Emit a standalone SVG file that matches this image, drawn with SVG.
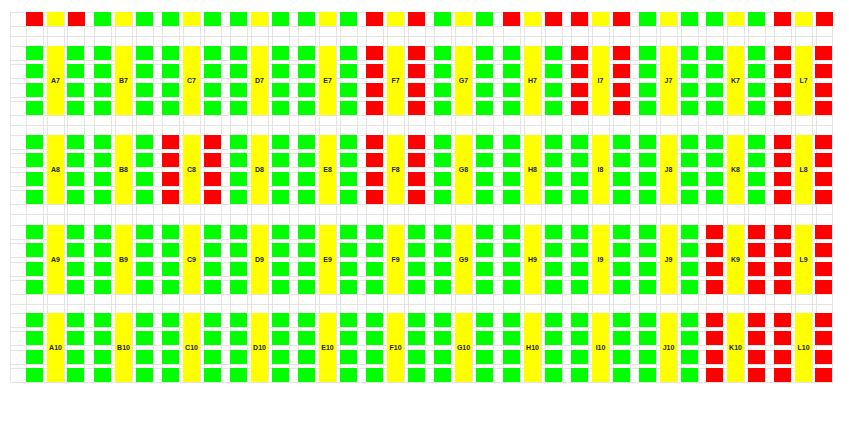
<svg xmlns="http://www.w3.org/2000/svg" xmlns:xlink="http://www.w3.org/1999/xlink" width="849" height="425" viewBox="0 0 849 425">
<style>
.r{fill:#ff0000}.g{fill:#00ff00}.y{fill:#ffff00}
.grid{stroke:#e4e4e4;stroke-width:1;fill:none}
.lbl{font-family:"Liberation Sans",Arial,sans-serif;font-size:7px;font-weight:bold;fill:#222;text-anchor:middle}
</style>
<defs>
<g id="col4"><rect width="17" height="14"/><rect y="18" width="17" height="14"/><rect y="37" width="17" height="14"/><rect y="55" width="17" height="14"/></g>
<g id="top"><rect width="17" height="14"/><rect x="42" width="17" height="14"/></g>
</defs>
<rect width="849" height="425" fill="#fff"/>
<g id="grid" class="grid">
<path d="M10.5 12.5H832M10.5 26.5H832M10.5 36.5H832M10.5 46.5H832M10.5 60.5H832M10.5 64.5H832M10.5 78.5H832M10.5 83.5H832M10.5 97.5H832M10.5 101.5H832M10.5 115.5H832M10.5 125.5H832M10.5 135.5H832M10.5 149.5H832M10.5 153.5H832M10.5 167.5H832M10.5 172.5H832M10.5 186.5H832M10.5 190.5H832M10.5 204.5H832M10.5 214.5H832M10.5 225.5H832M10.5 239.5H832M10.5 243.5H832M10.5 257.5H832M10.5 262.5H832M10.5 276.5H832M10.5 280.5H832M10.5 294.5H832M10.5 304.5H832M10.5 313.5H832M10.5 327.5H832M10.5 331.5H832M10.5 345.5H832M10.5 350.5H832M10.5 364.5H832M10.5 368.5H832M10.5 382.5H832"/>
<path d="M10.5 12V383M26.5 12V383M43.5 12V383M47.5 12V383M64.5 12V383M67.5 12V383M84.5 12V383M94.5 12V383M111.5 12V383M115.5 12V383M132.5 12V383M136.5 12V383M153.5 12V383M162.5 12V383M179.5 12V383M183.5 12V383M200.5 12V383M204.5 12V383M221.5 12V383M230.5 12V383M247.5 12V383M251.5 12V383M268.5 12V383M272.5 12V383M289.5 12V383M298.5 12V383M315.5 12V383M319.5 12V383M336.5 12V383M340.5 12V383M357.5 12V383M366.5 12V383M383.5 12V383M387.5 12V383M404.5 12V383M408.5 12V383M425.5 12V383M434.5 12V383M451.5 12V383M455.5 12V383M472.5 12V383M476.5 12V383M493.5 12V383M503.5 12V383M520.5 12V383M524.5 12V383M541.5 12V383M545.5 12V383M562.5 12V383M571.5 12V383M588.5 12V383M592.5 12V383M609.5 12V383M613.5 12V383M630.5 12V383M639.5 12V383M656.5 12V383M660.5 12V383M677.5 12V383M681.5 12V383M698.5 12V383M706.5 12V383M723.5 12V383M727.5 12V383M744.5 12V383M748.5 12V383M765.5 12V383M774.5 12V383M791.5 12V383M795.5 12V383M812.5 12V383M816.5 12V383M832.5 12V383"/>
</g>
<g id="top-row">
<g transform="translate(26,12)"><use href="#top" class="r"/><rect class="y" x="21" width="17" height="14"/></g>
<g transform="translate(94,12)"><use href="#top" class="g"/><rect class="y" x="21" width="17" height="14"/></g>
<g transform="translate(162,12)"><use href="#top" class="g"/><rect class="y" x="21" width="17" height="14"/></g>
<g transform="translate(230,12)"><use href="#top" class="g"/><rect class="y" x="21" width="17" height="14"/></g>
<g transform="translate(298,12)"><use href="#top" class="g"/><rect class="y" x="21" width="17" height="14"/></g>
<g transform="translate(366,12)"><use href="#top" class="r"/><rect class="y" x="21" width="17" height="14"/></g>
<g transform="translate(434,12)"><use href="#top" class="g"/><rect class="y" x="21" width="17" height="14"/></g>
<g transform="translate(503,12)"><use href="#top" class="r"/><rect class="y" x="21" width="17" height="14"/></g>
<g transform="translate(571,12)"><use href="#top" class="r"/><rect class="y" x="21" width="17" height="14"/></g>
<g transform="translate(639,12)"><use href="#top" class="g"/><rect class="y" x="21" width="17" height="14"/></g>
<g transform="translate(706,12)"><use href="#top" class="g"/><rect class="y" x="21" width="17" height="14"/></g>
<g transform="translate(774,12)"><use href="#top" class="r"/><rect class="y" x="21" width="17" height="14"/></g>
</g>
<!-- row 7 -->
<g id="A7" transform="translate(26,46)"><use href="#col4" class="g"/><use href="#col4" x="41" class="g"/><rect class="y" x="21" width="17" height="69"/><text class="lbl" x="29.5" y="37">A7</text></g>
<g id="B7" transform="translate(94,46)"><use href="#col4" class="g"/><use href="#col4" x="42" class="g"/><rect class="y" x="21" width="17" height="69"/><text class="lbl" x="29.5" y="37">B7</text></g>
<g id="C7" transform="translate(162,46)"><use href="#col4" class="g"/><use href="#col4" x="42" class="g"/><rect class="y" x="21" width="17" height="69"/><text class="lbl" x="29.5" y="37">C7</text></g>
<g id="D7" transform="translate(230,46)"><use href="#col4" class="g"/><use href="#col4" x="42" class="g"/><rect class="y" x="21" width="17" height="69"/><text class="lbl" x="29.5" y="37">D7</text></g>
<g id="E7" transform="translate(298,46)"><use href="#col4" class="g"/><use href="#col4" x="42" class="g"/><rect class="y" x="21" width="17" height="69"/><text class="lbl" x="29.5" y="37">E7</text></g>
<g id="F7" transform="translate(366,46)"><use href="#col4" class="r"/><use href="#col4" x="42" class="r"/><rect class="y" x="21" width="17" height="69"/><text class="lbl" x="29.5" y="37">F7</text></g>
<g id="G7" transform="translate(434,46)"><use href="#col4" class="g"/><use href="#col4" x="42" class="g"/><rect class="y" x="21" width="17" height="69"/><text class="lbl" x="29.5" y="37">G7</text></g>
<g id="H7" transform="translate(503,46)"><use href="#col4" class="g"/><use href="#col4" x="42" class="g"/><rect class="y" x="21" width="17" height="69"/><text class="lbl" x="29.5" y="37">H7</text></g>
<g id="I7" transform="translate(571,46)"><use href="#col4" class="r"/><use href="#col4" x="42" class="r"/><rect class="y" x="21" width="17" height="69"/><text class="lbl" x="29.5" y="37">I7</text></g>
<g id="J7" transform="translate(639,46)"><use href="#col4" class="g"/><use href="#col4" x="42" class="g"/><rect class="y" x="21" width="17" height="69"/><text class="lbl" x="29.5" y="37">J7</text></g>
<g id="K7" transform="translate(706,46)"><use href="#col4" class="g"/><use href="#col4" x="42" class="g"/><rect class="y" x="21" width="17" height="69"/><text class="lbl" x="29.5" y="37">K7</text></g>
<g id="L7" transform="translate(774,46)"><use href="#col4" class="r"/><use href="#col4" x="41" class="r"/><rect class="y" x="21" width="17" height="69"/><text class="lbl" x="29.5" y="37">L7</text></g>
<!-- row 8 -->
<g id="A8" transform="translate(26,135)"><use href="#col4" class="g"/><use href="#col4" x="41" class="g"/><rect class="y" x="21" width="17" height="69"/><text class="lbl" x="29.5" y="37">A8</text></g>
<g id="B8" transform="translate(94,135)"><use href="#col4" class="g"/><use href="#col4" x="42" class="g"/><rect class="y" x="21" width="17" height="69"/><text class="lbl" x="29.5" y="37">B8</text></g>
<g id="C8" transform="translate(162,135)"><use href="#col4" class="r"/><use href="#col4" x="42" class="r"/><rect class="y" x="21" width="17" height="69"/><text class="lbl" x="29.5" y="37">C8</text></g>
<g id="D8" transform="translate(230,135)"><use href="#col4" class="g"/><use href="#col4" x="42" class="g"/><rect class="y" x="21" width="17" height="69"/><text class="lbl" x="29.5" y="37">D8</text></g>
<g id="E8" transform="translate(298,135)"><use href="#col4" class="g"/><use href="#col4" x="42" class="g"/><rect class="y" x="21" width="17" height="69"/><text class="lbl" x="29.5" y="37">E8</text></g>
<g id="F8" transform="translate(366,135)"><use href="#col4" class="r"/><use href="#col4" x="42" class="r"/><rect class="y" x="21" width="17" height="69"/><text class="lbl" x="29.5" y="37">F8</text></g>
<g id="G8" transform="translate(434,135)"><use href="#col4" class="g"/><use href="#col4" x="42" class="g"/><rect class="y" x="21" width="17" height="69"/><text class="lbl" x="29.5" y="37">G8</text></g>
<g id="H8" transform="translate(503,135)"><use href="#col4" class="g"/><use href="#col4" x="42" class="g"/><rect class="y" x="21" width="17" height="69"/><text class="lbl" x="29.5" y="37">H8</text></g>
<g id="I8" transform="translate(571,135)"><use href="#col4" class="g"/><use href="#col4" x="42" class="g"/><rect class="y" x="21" width="17" height="69"/><text class="lbl" x="29.5" y="37">I8</text></g>
<g id="J8" transform="translate(639,135)"><use href="#col4" class="g"/><use href="#col4" x="42" class="g"/><rect class="y" x="21" width="17" height="69"/><text class="lbl" x="29.5" y="37">J8</text></g>
<g id="K8" transform="translate(706,135)"><use href="#col4" class="g"/><use href="#col4" x="42" class="g"/><rect class="y" x="21" width="17" height="69"/><text class="lbl" x="29.5" y="37">K8</text></g>
<g id="L8" transform="translate(774,135)"><use href="#col4" class="r"/><use href="#col4" x="41" class="r"/><rect class="y" x="21" width="17" height="69"/><text class="lbl" x="29.5" y="37">L8</text></g>
<!-- row 9 -->
<g id="A9" transform="translate(26,225)"><use href="#col4" class="g"/><use href="#col4" x="41" class="g"/><rect class="y" x="21" width="17" height="69"/><text class="lbl" x="29.5" y="37">A9</text></g>
<g id="B9" transform="translate(94,225)"><use href="#col4" class="g"/><use href="#col4" x="42" class="g"/><rect class="y" x="21" width="17" height="69"/><text class="lbl" x="29.5" y="37">B9</text></g>
<g id="C9" transform="translate(162,225)"><use href="#col4" class="g"/><use href="#col4" x="42" class="g"/><rect class="y" x="21" width="17" height="69"/><text class="lbl" x="29.5" y="37">C9</text></g>
<g id="D9" transform="translate(230,225)"><use href="#col4" class="g"/><use href="#col4" x="42" class="g"/><rect class="y" x="21" width="17" height="69"/><text class="lbl" x="29.5" y="37">D9</text></g>
<g id="E9" transform="translate(298,225)"><use href="#col4" class="g"/><use href="#col4" x="42" class="g"/><rect class="y" x="21" width="17" height="69"/><text class="lbl" x="29.5" y="37">E9</text></g>
<g id="F9" transform="translate(366,225)"><use href="#col4" class="g"/><use href="#col4" x="42" class="g"/><rect class="y" x="21" width="17" height="69"/><text class="lbl" x="29.5" y="37">F9</text></g>
<g id="G9" transform="translate(434,225)"><use href="#col4" class="g"/><use href="#col4" x="42" class="g"/><rect class="y" x="21" width="17" height="69"/><text class="lbl" x="29.5" y="37">G9</text></g>
<g id="H9" transform="translate(503,225)"><use href="#col4" class="g"/><use href="#col4" x="42" class="g"/><rect class="y" x="21" width="17" height="69"/><text class="lbl" x="29.5" y="37">H9</text></g>
<g id="I9" transform="translate(571,225)"><use href="#col4" class="g"/><use href="#col4" x="42" class="g"/><rect class="y" x="21" width="17" height="69"/><text class="lbl" x="29.5" y="37">I9</text></g>
<g id="J9" transform="translate(639,225)"><use href="#col4" class="g"/><use href="#col4" x="42" class="g"/><rect class="y" x="21" width="17" height="69"/><text class="lbl" x="29.5" y="37">J9</text></g>
<g id="K9" transform="translate(706,225)"><use href="#col4" class="r"/><use href="#col4" x="42" class="r"/><rect class="y" x="21" width="17" height="69"/><text class="lbl" x="29.5" y="37">K9</text></g>
<g id="L9" transform="translate(774,225)"><use href="#col4" class="r"/><use href="#col4" x="41" class="r"/><rect class="y" x="21" width="17" height="69"/><text class="lbl" x="29.5" y="37">L9</text></g>
<!-- row 10 -->
<g id="A10" transform="translate(26,313)"><use href="#col4" class="g"/><use href="#col4" x="41" class="g"/><rect class="y" x="21" width="17" height="69"/><text class="lbl" x="29.5" y="37">A10</text></g>
<g id="B10" transform="translate(94,313)"><use href="#col4" class="g"/><use href="#col4" x="42" class="g"/><rect class="y" x="21" width="17" height="69"/><text class="lbl" x="29.5" y="37">B10</text></g>
<g id="C10" transform="translate(162,313)"><use href="#col4" class="g"/><use href="#col4" x="42" class="g"/><rect class="y" x="21" width="17" height="69"/><text class="lbl" x="29.5" y="37">C10</text></g>
<g id="D10" transform="translate(230,313)"><use href="#col4" class="g"/><use href="#col4" x="42" class="g"/><rect class="y" x="21" width="17" height="69"/><text class="lbl" x="29.5" y="37">D10</text></g>
<g id="E10" transform="translate(298,313)"><use href="#col4" class="g"/><use href="#col4" x="42" class="g"/><rect class="y" x="21" width="17" height="69"/><text class="lbl" x="29.5" y="37">E10</text></g>
<g id="F10" transform="translate(366,313)"><use href="#col4" class="g"/><use href="#col4" x="42" class="g"/><rect class="y" x="21" width="17" height="69"/><text class="lbl" x="29.5" y="37">F10</text></g>
<g id="G10" transform="translate(434,313)"><use href="#col4" class="g"/><use href="#col4" x="42" class="g"/><rect class="y" x="21" width="17" height="69"/><text class="lbl" x="29.5" y="37">G10</text></g>
<g id="H10" transform="translate(503,313)"><use href="#col4" class="g"/><use href="#col4" x="42" class="g"/><rect class="y" x="21" width="17" height="69"/><text class="lbl" x="29.5" y="37">H10</text></g>
<g id="I10" transform="translate(571,313)"><use href="#col4" class="g"/><use href="#col4" x="42" class="g"/><rect class="y" x="21" width="17" height="69"/><text class="lbl" x="29.5" y="37">I10</text></g>
<g id="J10" transform="translate(639,313)"><use href="#col4" class="g"/><use href="#col4" x="42" class="g"/><rect class="y" x="21" width="17" height="69"/><text class="lbl" x="29.5" y="37">J10</text></g>
<g id="K10" transform="translate(706,313)"><use href="#col4" class="r"/><use href="#col4" x="42" class="r"/><rect class="y" x="21" width="17" height="69"/><text class="lbl" x="29.5" y="37">K10</text></g>
<g id="L10" transform="translate(774,313)"><use href="#col4" class="r"/><use href="#col4" x="41" class="r"/><rect class="y" x="21" width="17" height="69"/><text class="lbl" x="29.5" y="37">L10</text></g>
</svg>
